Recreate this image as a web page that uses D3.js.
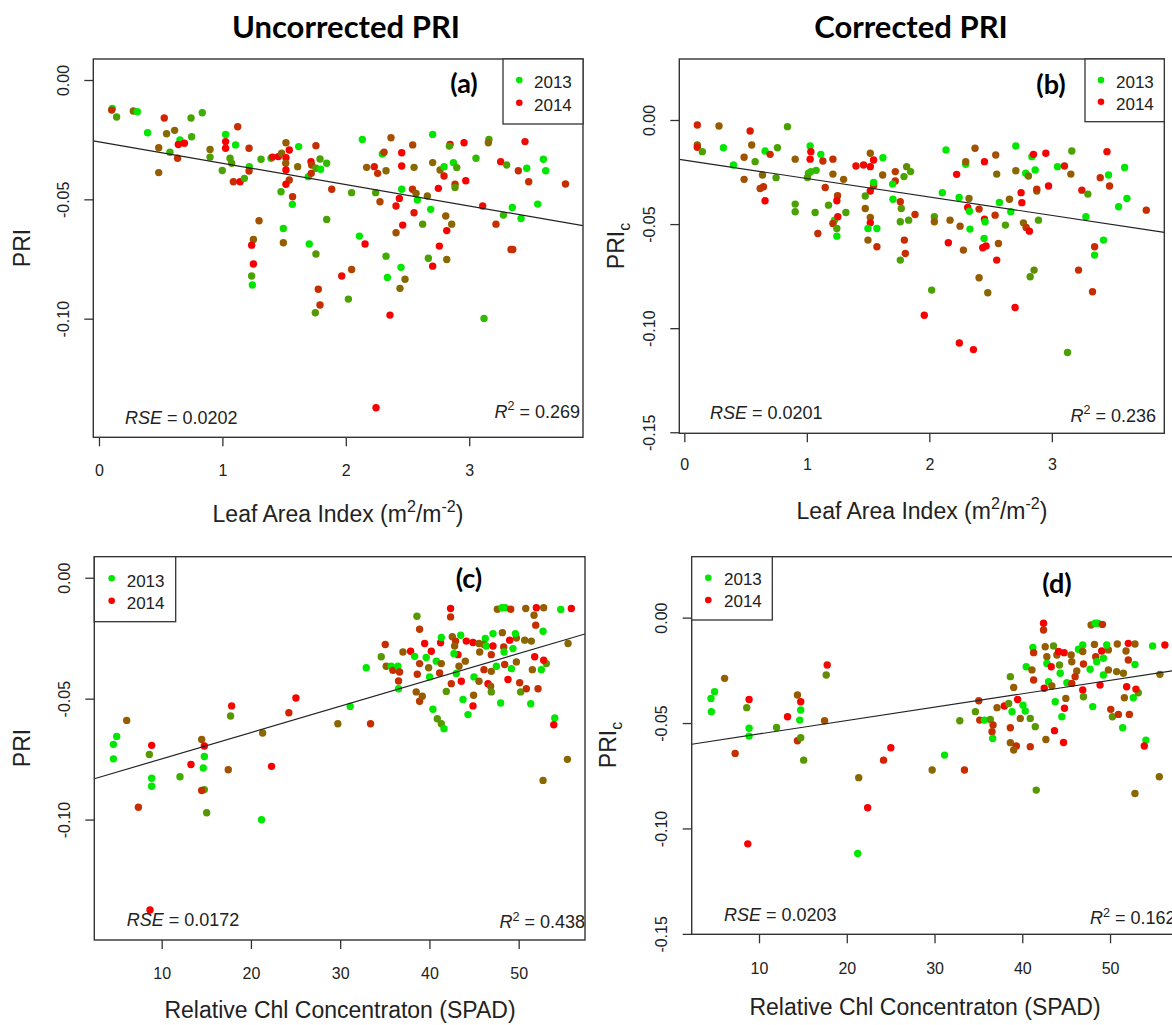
<!DOCTYPE html>
<html><head><meta charset="utf-8">
<script src="https://cdn.jsdelivr.net/npm/d3@7/dist/d3.min.js"></script>
<style>
html,body{margin:0;padding:0;background:#fff;}
svg{display:block;}
text{font-family:"Liberation Sans",Arial,Helvetica,sans-serif;fill:#222;}
.hdr{font-family:Lato,"Open Sans",sans-serif;font-weight:700;fill:#000;}
</style></head><body>
<svg id="chart" width="1172" height="1025"></svg>
<script>
// ---------------- DATA ----------------
// each point: [x, y, shade]  (shade 0 = green ... 1 = red)
const pointsA = [[0.108,-0.0119,0],[0.103,-0.0126,0.8],[0.143,-0.0155,0.3],[0.278,-0.0130,0.55],[0.311,-0.0133,0],[0.529,-0.0159,0.85],[0.746,-0.0159,0.3],[0.837,-0.0137,0.25],[0.394,-0.0221,0],[0.548,-0.0225,0.55],[0.613,-0.0211,0.55],[0.656,-0.0251,0],[0.643,-0.0270,1],[0.692,-0.0265,1],[0.751,-0.0238,0.25],[0.575,-0.0303,0.25],[0.484,-0.0284,0.6],[0.637,-0.0328,0.8],[0.484,-0.0388,0.6],[0.900,-0.0291,0.55],[0.900,-0.0323,0.3],[1.026,-0.0228,0],[1.026,-0.0258,1],[1.026,-0.0286,1],[1.124,-0.0196,0.8],[1.107,-0.0272,0],[1.062,-0.0328,0.3],[1.075,-0.0349,0.3],[0.999,-0.0379,0.3],[1.089,-0.0426,0.8],[1.143,-0.0426,1],[1.178,-0.0412,0.25],[1.216,-0.0286,0.8],[1.218,-0.0363,0.1],[1.216,-0.0381,0.8],[1.297,-0.0590,0.65],[1.251,-0.0668,0.6],[1.237,-0.0692,1],[1.251,-0.0771,1],[1.237,-0.0821,0.3],[1.243,-0.0859,0],[1.313,-0.0332,0.25],[1.394,-0.0328,0.1],[1.405,-0.0323,0.95],[1.453,-0.0321,1],[1.480,-0.0307,0.55],[1.515,-0.0263,0.6],[1.542,-0.0293,1],[1.515,-0.0326,1],[1.513,-0.0349,0.6],[1.515,-0.0377,1],[1.542,-0.0419,0.75],[1.515,-0.0437,1],[1.569,-0.0489,0.8],[1.567,-0.0521,0],[1.475,-0.0468,0.25],[1.494,-0.0622,0.05],[1.494,-0.0682,0.6],[1.610,-0.0363,0.55],[1.618,-0.0279,0],[1.696,-0.0405,0.05],[1.718,-0.0342,1],[1.723,-0.0356,0.75],[1.758,-0.0275,0.8],[1.704,-0.0687,0],[1.758,-0.0729,0.35],[1.777,-0.0877,0.8],[1.753,-0.0975,0.35],[1.791,-0.0943,0.8],[1.758,-0.0370,0.3],[1.791,-0.0331,0.3],[1.720,-0.0391,0.8],[1.796,-0.0374,0],[1.845,-0.0349,0.2],[1.886,-0.0458,0.8],[1.845,-0.0584,0.3],[2.047,-0.0472,0.3],[2.134,-0.0249,0],[2.110,-0.0654,0],[2.156,-0.0687,1],[1.967,-0.0821,0.95],[2.047,-0.0794,0.7],[2.021,-0.0918,0.3],[2.169,-0.0366,0.6],[2.231,-0.0363,0.9],[2.258,-0.0391,0.8],[2.326,-0.0380,0.55],[2.296,-0.0310,0.05],[2.310,-0.0303,0.75],[2.366,-0.0242,0.65],[2.242,-0.0472,0.3],[2.277,-0.0510,0.7],[2.326,-0.0738,0.25],[2.337,-0.0827,0],[2.447,-0.0785,0],[2.480,-0.0835,0.55],[2.439,-0.0873,0.55],[2.358,-0.0985,1],[2.245,-0.1373,1],[2.453,-0.0305,1],[2.453,-0.0360,1],[2.453,-0.0458,0],[2.434,-0.0496,1],[2.407,-0.0528,0.95],[2.461,-0.0608,1],[2.407,-0.0640,0.65],[2.553,-0.0366,0.55],[2.542,-0.0272,0.7],[2.540,-0.0458,0.8],[2.569,-0.0475,0.6],[2.580,-0.0503,0],[2.553,-0.0556,0.9],[2.623,-0.0604,0.35],[2.661,-0.0486,0.55],[2.688,-0.0542,0],[2.704,-0.0228,0],[2.704,-0.0346,0.55],[2.750,-0.0454,1],[2.764,-0.0377,0.55],[2.796,-0.0363,0],[2.796,-0.0402,0.9],[2.758,-0.0696,1],[2.704,-0.0780,1],[2.669,-0.0747,0.3],[2.818,-0.0752,0.55],[2.818,-0.0631,1],[2.858,-0.0604,0.55],[2.810,-0.0570,0.6],[2.845,-0.0270,1],[2.839,-0.0277,0.3],[2.872,-0.0346,0.05],[2.899,-0.0367,0.3],[2.885,-0.0437,0.8],[2.885,-0.0450,0.35],[2.958,-0.0263,1],[2.972,-0.0422,1],[3.055,-0.0328,0.2],[3.109,-0.0528,0.95],[3.120,-0.0999,0.2],[3.160,-0.0249,0.3],[3.155,-0.0263,0.55],[3.255,-0.0342,0.95],[3.304,-0.0356,0.3],[3.217,-0.0604,0.8],[3.277,-0.0566,0.2],[3.349,-0.0534,0],[3.420,-0.0580,0],[3.339,-0.0710,0.8],[3.353,-0.0710,0.8],[3.452,-0.0258,0.95],[3.466,-0.0370,0],[3.398,-0.0380,0.8],[3.482,-0.0426,0.8],[3.555,-0.0520,0],[3.601,-0.0332,0],[3.620,-0.0380,0],[3.780,-0.0436,0.8]];

const pointsB = [[0.106,-0.0024,0.85],[0.106,-0.0120,0.55],[0.106,-0.0131,0.9],[0.147,-0.0152,0.3],[0.283,-0.0029,0.6],[0.319,-0.0133,0],[0.537,-0.0053,0.9],[0.550,-0.0120,0.6],[0.842,-0.0032,0.3],[0.401,-0.0216,0],[0.488,-0.0179,0.65],[0.488,-0.0285,0.65],[0.578,-0.0200,0.3],[0.659,-0.0149,0],[0.700,-0.0165,0.8],[0.760,-0.0133,0.3],[0.638,-0.0264,0.55],[0.749,-0.0277,0.3],[0.619,-0.0329,0.7],[0.646,-0.0321,0.8],[0.659,-0.0388,1],[0.905,-0.0188,0.6],[0.905,-0.0404,0.3],[0.905,-0.0441,0.3],[1.027,-0.0125,0],[1.033,-0.0152,1],[1.027,-0.0188,1],[1.114,-0.0165,0],[1.131,-0.0197,0.8],[1.014,-0.0256,0.2],[1.033,-0.0248,0.2],[1.076,-0.0242,0.2],[1.005,-0.0276,0.3],[1.150,-0.0324,0.8],[1.068,-0.0444,0.3],[1.090,-0.0545,0.8],[1.177,-0.0409,0.3],[1.213,-0.0188,0.8],[1.213,-0.0260,0.6],[1.300,-0.0285,0.6],[1.251,-0.0364,0.75],[1.245,-0.0388,1],[1.226,-0.0481,0],[1.213,-0.0497,0.8],[1.253,-0.0465,0.95],[1.245,-0.0521,0.3],[1.245,-0.0558,0],[1.319,-0.0444,0.3],[1.401,-0.0221,0.95],[1.463,-0.0216,0.95],[1.518,-0.0224,1],[1.545,-0.0192,1],[1.518,-0.0160,0.6],[1.621,-0.0181,0],[1.619,-0.0264,0.6],[1.545,-0.0316,0.8],[1.545,-0.0300,0],[1.518,-0.0341,1],[1.477,-0.0365,0.3],[1.477,-0.0425,0.6],[1.518,-0.0468,0.6],[1.518,-0.0494,1],[1.499,-0.0521,0],[1.572,-0.0521,0],[1.499,-0.0577,0.6],[1.572,-0.0609,0.8],[1.722,-0.0248,0.75],[1.722,-0.0293,0.8],[1.700,-0.0308,0],[1.703,-0.0381,0],[1.793,-0.0272,0.3],[1.815,-0.0224,0.4],[1.763,-0.0393,0.8],[1.771,-0.0425,0.35],[1.763,-0.0489,0.3],[1.796,-0.0577,0.8],[1.804,-0.0641,0.8],[1.763,-0.0673,0.3],[1.831,-0.0481,0.3],[1.883,-0.0454,0.8],[1.847,-0.0248,0.3],[2.106,-0.0349,0],[2.136,-0.0144,0],[2.041,-0.0465,0.3],[2.041,-0.0489,0.6],[2.019,-0.0817,0.3],[1.959,-0.0938,1],[2.155,-0.0590,1],[2.169,-0.0481,0.6],[2.251,-0.0510,0.65],[2.223,-0.0261,1],[2.243,-0.0372,0],[2.278,-0.0625,0.65],[2.245,-0.1071,1],[2.360,-0.1103,1],[2.297,-0.0213,0],[2.297,-0.0200,0.6],[2.373,-0.0136,0.65],[2.324,-0.0377,0.55],[2.313,-0.0420,1],[2.327,-0.0438,0],[2.332,-0.0524,0],[2.406,-0.0428,0.8],[2.450,-0.0200,1],[2.450,-0.0476,1],[2.455,-0.0489,0],[2.447,-0.0569,0],[2.436,-0.0614,1],[2.463,-0.0605,1],[2.406,-0.0758,0.6],[2.477,-0.0830,0.55],[2.550,-0.0260,0.55],[2.542,-0.0168,0.65],[2.537,-0.0457,0.8],[2.572,-0.0396,0],[2.564,-0.0593,0.65],[2.550,-0.0673,0.95],[2.621,-0.0505,0.3],[2.654,-0.0381,0.6],[2.665,-0.0441,0],[2.706,-0.0125,0],[2.706,-0.0244,0.55],[2.700,-0.0901,1],[2.787,-0.0256,0],[2.809,-0.0269,0.5],[2.749,-0.0349,1],[2.755,-0.0397,1],[2.768,-0.0494,0.55],[2.790,-0.0516,0.75],[2.817,-0.0534,1],[2.823,-0.0753,0.35],[2.855,-0.0721,0.4],[2.837,-0.0176,0],[2.850,-0.0165,1],[2.864,-0.0240,0],[2.877,-0.0341,0.55],[2.877,-0.0332,0.8],[2.891,-0.0481,0.3],[2.951,-0.0160,1],[2.973,-0.0317,1],[3.046,-0.0224,0],[3.103,-0.0221,0.9],[3.163,-0.0149,0.3],[3.155,-0.0260,0.6],[3.245,-0.0337,0.9],[3.294,-0.0356,0.3],[3.278,-0.0465,0],[3.218,-0.0721,0.8],[3.332,-0.0825,0.8],[3.349,-0.0609,0.8],[3.349,-0.0649,0],[3.422,-0.0577,0],[3.450,-0.0152,0.95],[3.395,-0.0277,0.8],[3.463,-0.0264,0],[3.471,-0.0317,0.8],[3.128,-0.1117,0.3],[3.594,-0.0228,0],[3.545,-0.0417,0],[3.613,-0.0377,0],[3.771,-0.0433,0.8]];

const pointsC = [[4.59,-0.0749,0],[4.59,-0.0689,0],[4.96,-0.0656,0],[6.08,-0.0590,0.6],[8.88,-0.0693,1],[8.62,-0.0731,0.35],[8.88,-0.0829,0],[8.88,-0.0862,0],[7.39,-0.0949,0.8],[8.69,-0.1374,1],[12.05,-0.0823,0.25],[13.28,-0.0772,1],[14.48,-0.0669,0.6],[14.78,-0.0696,1],[14.78,-0.0739,0],[14.66,-0.0787,0],[14.78,-0.0876,0.3],[14.48,-0.0880,0.8],[15.04,-0.0972,0.35],[17.72,-0.0572,0.35],[17.84,-0.0530,0.95],[17.46,-0.0794,0.65],[21.31,-0.0642,0.55],[21.19,-0.1001,0],[22.31,-0.0780,1],[24.25,-0.0558,0.85],[25.04,-0.0497,1],[31.12,-0.0532,0],[29.74,-0.0604,0.55],[33.40,-0.0604,0.8],[32.92,-0.0372,0],[34.60,-0.0327,0.35],[35.05,-0.0276,0.8],[35.16,-0.0366,0.6],[35.72,-0.0366,0],[35.91,-0.0383,0.8],[36.47,-0.0366,0],[36.65,-0.0390,0.8],[36.54,-0.0427,0.8],[36.54,-0.0459,0],[37.03,-0.0307,0.6],[37.89,-0.0304,1],[38.34,-0.0325,0],[38.60,-0.0159,0.35],[38.90,-0.0213,0.75],[38.64,-0.0399,0.8],[38.90,-0.0355,0.75],[38.52,-0.0472,0.6],[38.90,-0.0511,0.75],[39.20,-0.0490,0.6],[39.46,-0.0272,1],[40.21,-0.0304,1],[39.64,-0.0330,0],[39.91,-0.0372,0.55],[40.02,-0.0410,0],[40.77,-0.0345,0],[41.14,-0.0394,0.8],[41.33,-0.0355,0.6],[41.25,-0.0269,1],[41.33,-0.0247,0],[40.39,-0.0544,0],[40.88,-0.0583,0.35],[41.33,-0.0604,0.35],[41.63,-0.0624,0],[41.89,-0.0470,0.35],[42.37,-0.0127,1],[42.37,-0.0162,0.8],[42.56,-0.0244,0.6],[42.93,-0.0262,0.8],[42.82,-0.0282,0.6],[43.50,-0.0238,0],[43.20,-0.0318,0.95],[42.75,-0.0314,0],[43.31,-0.0366,0.6],[43.01,-0.0396,0],[42.45,-0.0438,0.8],[43.57,-0.0428,1],[43.76,-0.0503,0],[44.13,-0.0262,1],[44.88,-0.0268,1],[44.02,-0.0345,0.6],[44.32,-0.0566,0],[44.95,-0.0486,0.6],[44.88,-0.0530,1],[44.99,-0.0410,0],[45.55,-0.0272,0.6],[45.63,-0.0307,0.6],[45.55,-0.0428,0.6],[46.26,-0.0251,0],[46.11,-0.0276,0.6],[46.37,-0.0282,0],[46.11,-0.0380,0.8],[46.93,-0.0387,0.6],[46.56,-0.0438,1],[46.86,-0.0449,0.6],[46.93,-0.0472,0.35],[47.12,-0.0231,0],[47.12,-0.0282,1],[46.93,-0.0318,0.8],[47.50,-0.0366,0],[47.98,-0.0518,0],[47.61,-0.0130,0.6],[48.13,-0.0124,0],[48.50,-0.0124,0],[49.10,-0.0130,0.8],[48.17,-0.0227,0.6],[48.32,-0.0286,0.8],[48.36,-0.0307,0],[48.43,-0.0359,0.8],[48.80,-0.0421,1],[49.18,-0.0376,0],[48.99,-0.0258,1],[49.74,-0.0249,0.6],[49.63,-0.0231,0],[49.36,-0.0293,0],[49.74,-0.0348,0.6],[50.11,-0.0434,0.8],[50.22,-0.0472,0.35],[50.86,-0.0459,0.8],[51.35,-0.0521,0],[50.79,-0.0127,0.6],[50.67,-0.0258,0.55],[51.42,-0.0262,0.55],[51.98,-0.0124,1],[51.72,-0.0155,0.6],[51.91,-0.0196,0.8],[52.73,-0.0221,0],[52.80,-0.0124,0.6],[51.79,-0.0327,1],[51.53,-0.0380,0.6],[52.54,-0.0380,0],[53.10,-0.0355,0.35],[52.80,-0.0341,0.95],[52.17,-0.0459,0.8],[54.04,-0.0580,0],[53.93,-0.0608,1],[52.73,-0.0838,0.55],[55.46,-0.0751,0.55],[54.71,-0.0131,0],[55.90,-0.0127,1],[55.53,-0.0272,0.55]];

const pointsD = [[4.57,-0.0446,0],[4.53,-0.0383,0],[4.94,-0.0351,0],[6.08,-0.0288,0.6],[8.87,-0.0388,1],[8.60,-0.0427,0.35],[8.87,-0.0525,0],[8.87,-0.0562,0],[7.28,-0.0644,0.8],[8.72,-0.1073,1],[12.0,-0.0521,0.3],[13.25,-0.0470,1],[14.38,-0.0367,0.6],[14.75,-0.0399,1],[14.75,-0.0438,0],[14.64,-0.0486,0],[14.38,-0.0584,0.8],[14.75,-0.0570,0.35],[15.09,-0.0676,0.35],[17.66,-0.0272,0.4],[17.77,-0.0225,0.95],[17.47,-0.0489,0.65],[21.36,-0.0759,0.55],[21.25,-0.1119,0],[22.38,-0.0902,1],[24.19,-0.0676,0.85],[25.02,-0.0617,1],[31.14,-0.0652,0],[29.73,-0.0723,0.55],[33.41,-0.0723,0.8],[32.88,-0.0489,0.35],[34.66,-0.0446,0.35],[35.04,-0.0394,0.8],[35.15,-0.0486,0.8],[35.68,-0.0486,0],[36.36,-0.0483,0.35],[36.67,-0.0509,0.8],[36.55,-0.0541,0.8],[36.63,-0.0573,0],[37.12,-0.0427,0.6],[37.95,-0.0419,1],[38.64,-0.0280,0.35],[39.02,-0.0331,0.6],[38.45,-0.0407,0.35],[38.64,-0.0522,0.8],[38.64,-0.0593,0.6],[39.32,-0.0609,0.8],[39.02,-0.0628,0.6],[38.83,-0.0446,0],[39.47,-0.0388,1],[39.77,-0.0478,0.6],[40.08,-0.0415,0],[40.34,-0.0443,0],[40.91,-0.0478,0.35],[41.48,-0.0517,0.35],[40.91,-0.0612,0.8],[40.45,-0.0233,0],[41.21,-0.0142,0],[41.29,-0.0166,0.8],[41.10,-0.0248,0.6],[41.29,-0.0296,0.8],[41.59,-0.0818,0.35],[42.42,-0.0027,1],[42.42,-0.0059,0.8],[42.61,-0.0138,0.6],[42.80,-0.0185,0.6],[42.80,-0.0217,0],[43.30,-0.0233,1],[43.56,-0.0134,0.35],[43.94,-0.0177,0.6],[44.13,-0.0161,1],[44.77,-0.0166,1],[42.99,-0.0304,0],[43.37,-0.0324,0.6],[42.50,-0.0335,1],[44.32,-0.0264,0],[44.24,-0.0225,0.35],[43.75,-0.0399,0],[43.67,-0.0536,1],[42.69,-0.0578,0.6],[44.70,-0.0592,1],[44.51,-0.0470,0],[44.96,-0.0383,0.6],[44.81,-0.0430,1],[45.08,-0.0309,0],[45.57,-0.0177,0.6],[45.64,-0.0209,0.6],[45.64,-0.0312,0.8],[46.40,-0.0150,0],[46.21,-0.0253,0.6],[46.02,-0.0280,0.8],[46.89,-0.0130,0],[46.89,-0.0161,0.6],[46.97,-0.0220,0.8],[46.89,-0.0343,1],[46.97,-0.0375,0.35],[48.03,-0.0422,0],[47.73,-0.0245,0],[47.84,-0.0035,0.6],[48.30,-0.0027,0],[48.60,-0.0027,0],[49.13,-0.0032,0.8],[48.22,-0.0127,0.6],[48.37,-0.0185,0.8],[48.48,-0.0209,0],[48.86,-0.0320,1],[49.24,-0.0272,0],[49.05,-0.0158,1],[49.81,-0.0153,0.6],[49.62,-0.0130,0],[49.24,-0.0193,0],[49.81,-0.0248,0.6],[50.08,-0.0435,0.8],[50.27,-0.0470,0.35],[50.95,-0.0459,0.8],[51.44,-0.0522,0],[50.83,-0.0125,0.6],[50.75,-0.0256,0.55],[51.52,-0.0264,0.55],[52.08,-0.0122,1],[51.82,-0.0158,0.6],[52.08,-0.0201,0.8],[52.84,-0.0222,0],[52.84,-0.0125,0.6],[51.89,-0.0328,1],[51.63,-0.0380,0.6],[52.65,-0.0380,0],[53.22,-0.0356,0.35],[52.95,-0.0339,0.95],[52.20,-0.0459,0.8],[54.09,-0.0581,0],[53.90,-0.0609,1],[52.84,-0.0834,0.55],[55.61,-0.0755,0.55],[54.85,-0.0134,0],[56.25,-0.0130,1],[55.68,-0.0269,0.55]];

// regression lines: [intercept, slope]
const fitA = [-0.0259, -0.00896];
const fitB = [-0.01924, -0.00886];
const fitC = [-0.0858, 0.001089];
const fitD = [-0.06153, 0.000635];

// statistics labels: [RSE, R2]
const statsA = ["0.0202", "0.269"];
const statsB = ["0.0201", "0.236"];
const statsC = ["0.0172", "0.438"];
const statsD = ["0.0203", "0.162"];

const legendYears = ["2013", "2014"];
const legendShades = [0, 1];
const laiTicks = [0, 1, 2, 3];
const spadTicks = [10, 20, 30, 40, 50];
const priTicksA = [0, -0.05, -0.10];
const priTicksB = [0, -0.05, -0.10, -0.15];
const columnTitles = ["Uncorrected PRI", "Corrected PRI"];
const panelLetters = ["(a)", "(b)", "(c)", "(d)"];

// ---------------- DRAW ----------------
const svg = d3.select("#chart");
const shadeColor = d3.interpolateRgb("#00e800", "#f80000");

function rich(sel, parts, size) {
  let shift = 0;
  parts.forEach(([t, m]) => {
    const ts = sel.append("tspan").text(t);
    let target = 0;
    if (m === "sup") { ts.attr("font-size", size * 0.7); target = -size * 0.42; }
    else if (m === "sub") { ts.attr("font-size", size * 0.7); target = size * 0.28; }
    else if (m === "it") { ts.attr("font-style", "italic"); }
    ts.attr("dy", target - shift);
    shift = target;
  });
}

const laiTitle = [["Leaf Area Index (m", "n"], ["2", "sup"], ["/m", "n"], ["-2", "sup"], [")", "n"]];
const spadTitle = [["Relative Chl Concentraton (SPAD)", "n"]];
const priTitle = [["PRI", "n"]];
const pricTitle = [["PRI", "n"], ["c", "sub"]];

const panels = [
  { pts: pointsA, fit: fitA, stats: statsA, box: [93.3, 59, 583, 437.3], xd: [-0.046, 3.922], yd: [-0.1497, 0.0088],
    xt: laiTicks, yt: priTicksA, xTitle: laiTitle, yTitle: priTitle,
    xTitlePos: [338, 522], yTitlePos: [30, 248], xLabOff: 39, yLabOff: 24,
    legend: { box: [503, 59, 583, 124], dotX: 519.3, dotY: [80, 102.7], textX: 534, textY: [88, 111] },
    letter: [464, 93, panelLetters[0]], rse: [125, 424], r2: [580, 418] },
  { pts: pointsB, fit: fitB, stats: statsB, box: [679.3, 59, 1164.3, 433.3], xd: [-0.041, 3.918], yd: [-0.1505, 0.0293],
    xt: laiTicks, yt: priTicksB, xTitle: laiTitle, yTitle: pricTitle,
    xTitlePos: [922, 519], yTitlePos: [624, 246], xLabOff: 37, yLabOff: 24,
    legend: { box: [1085, 59, 1164.3, 121.7], dotX: 1101, dotY: [80, 101.7], textX: 1116, textY: [87.5, 110] },
    letter: [1051, 94, panelLetters[1]], rse: [710, 419], r2: [1156, 421.7] },
  { pts: pointsC, fit: fitC, stats: statsC, box: [94.3, 556.7, 585, 940], xd: [2.45, 57.43], yd: [-0.1498, 0.0087],
    xt: spadTicks, yt: priTicksA, xTitle: spadTitle, yTitle: priTitle,
    xTitlePos: [340, 1018], yTitlePos: [30, 748], xLabOff: 39, yLabOff: 24.5,
    legend: { box: [94.3, 556.7, 175.7, 621.7], dotX: 111.7, dotY: [578.3, 600.7], textX: 126.7, textY: [586.5, 608.5] },
    letter: [469, 588, panelLetters[2]], rse: [126.7, 925.7], r2: [585, 928.3] },
  { pts: pointsD, fit: fitD, stats: statsD, box: [691.7, 556.7, 1174.2, 934.3], xd: [2.33, 57.31], yd: [-0.1502, 0.0289],
    xt: spadTicks, yt: priTicksB, xTitle: spadTitle, yTitle: pricTitle,
    xTitlePos: [925, 1015], yTitlePos: [616, 745], xLabOff: 40, yLabOff: 24.5,
    legend: { box: [691.7, 556.7, 772.3, 620], dotX: 708.3, dotY: [577.7, 600], textX: 724, textY: [584.5, 606.5] },
    letter: [1057, 593, panelLetters[3]], rse: [724, 921], r2: [1090, 924.3], r2Start: true }
];

const ink = "#333";

panels.forEach((p, i) => {
  const [L, T, R, B] = p.box;
  const x = d3.scaleLinear().domain(p.xd).range([L, R]);
  const y = d3.scaleLinear().domain(p.yd).range([B, T]);
  const g = svg.append("g");
  const clipId = "clip" + i;
  svg.append("clipPath").attr("id", clipId).append("rect")
    .attr("x", L).attr("y", T).attr("width", R - L).attr("height", B - T);

  // points
  g.append("g").attr("clip-path", `url(#${clipId})`)
    .selectAll("circle").data(p.pts).join("circle")
    .attr("cx", d => x(d[0])).attr("cy", d => y(d[1])).attr("r", 3.7)
    .attr("fill", d => shadeColor(d[2]));

  // regression line
  g.append("line").attr("clip-path", `url(#${clipId})`)
    .attr("x1", x(p.xd[0])).attr("y1", y(p.fit[0] + p.fit[1] * p.xd[0]))
    .attr("x2", x(p.xd[1])).attr("y2", y(p.fit[0] + p.fit[1] * p.xd[1]))
    .attr("stroke", "#222").attr("stroke-width", 1.2);

  // box
  g.append("rect").attr("x", L).attr("y", T).attr("width", R - L).attr("height", B - T)
    .attr("fill", "none").attr("stroke", ink).attr("stroke-width", 1.4);

  // x axis
  const xa = g.append("g").attr("transform", `translate(0,${B})`)
    .call(d3.axisBottom(x).tickValues(p.xt).tickSize(9).tickSizeOuter(0).tickFormat(d3.format("d")));
  xa.select(".domain").remove();
  xa.selectAll(".tick line").attr("stroke", ink).attr("stroke-width", 1.3);
  xa.selectAll(".tick text").attr("y", p.xLabOff).attr("dy", 0)
    .style("font-family", '"Liberation Sans",Arial,sans-serif').style("font-size", "16px").attr("fill", "#222");

  // y axis
  const ya = g.append("g").attr("transform", `translate(${L},0)`)
    .call(d3.axisLeft(y).tickValues(p.yt).tickSize(9).tickSizeOuter(0).tickFormat(v => v.toFixed(2)));
  ya.select(".domain").remove();
  ya.selectAll(".tick line").attr("stroke", ink).attr("stroke-width", 1.3);
  ya.selectAll(".tick text").attr("x", 0).attr("y", -p.yLabOff).attr("dy", 0)
    .attr("transform", "rotate(-90)").attr("text-anchor", "middle")
    .style("font-family", '"Liberation Sans",Arial,sans-serif').style("font-size", "16px").attr("fill", "#222");

  // axis titles
  const xt = g.append("text").attr("x", p.xTitlePos[0]).attr("y", p.xTitlePos[1])
    .attr("text-anchor", "middle").attr("font-size", 23);
  rich(xt, p.xTitle, 23);
  const ytt = g.append("text").attr("transform", `translate(${p.yTitlePos[0]},${p.yTitlePos[1]}) rotate(-90)`)
    .attr("text-anchor", "middle").attr("font-size", 23);
  rich(ytt, p.yTitle, 23);

  // legend
  const lg = p.legend;
  g.append("rect").attr("x", lg.box[0]).attr("y", lg.box[1]).attr("width", lg.box[2] - lg.box[0])
    .attr("height", lg.box[3] - lg.box[1]).attr("fill", "#fff").attr("stroke", ink).attr("stroke-width", 1.3);
  legendYears.forEach((yr, k) => {
    g.append("circle").attr("cx", lg.dotX).attr("cy", lg.dotY[k]).attr("r", 3.3).attr("fill", shadeColor(legendShades[k]));
    g.append("text").attr("x", lg.textX).attr("y", lg.textY[k]).attr("font-size", 17).text(yr);
  });

  // panel letter
  g.append("text").attr("class", "hdr").attr("x", p.letter[0]).attr("y", p.letter[1])
    .attr("text-anchor", "middle").attr("font-size", 27).text(p.letter[2]);

  // stats
  const rs = g.append("text").attr("x", p.rse[0]).attr("y", p.rse[1]).attr("font-size", 18);
  rich(rs, [["RSE", "it"], [" = " + p.stats[0], "n"]], 18);
  const r2 = g.append("text").attr("x", p.r2[0]).attr("y", p.r2[1]).attr("font-size", 18)
    .attr("text-anchor", p.r2Start ? "start" : "end");
  rich(r2, [["R", "it"], ["2", "sup"], [" = " + p.stats[1], "n"]], 18);
});

// column titles
svg.append("text").attr("class", "hdr").attr("x", 346).attr("y", 38).attr("text-anchor", "middle")
  .attr("font-size", 31).text(columnTitles[0]);
svg.append("text").attr("class", "hdr").attr("x", 911).attr("y", 38).attr("text-anchor", "middle")
  .attr("font-size", 31).text(columnTitles[1]);
</script>
</body></html>
